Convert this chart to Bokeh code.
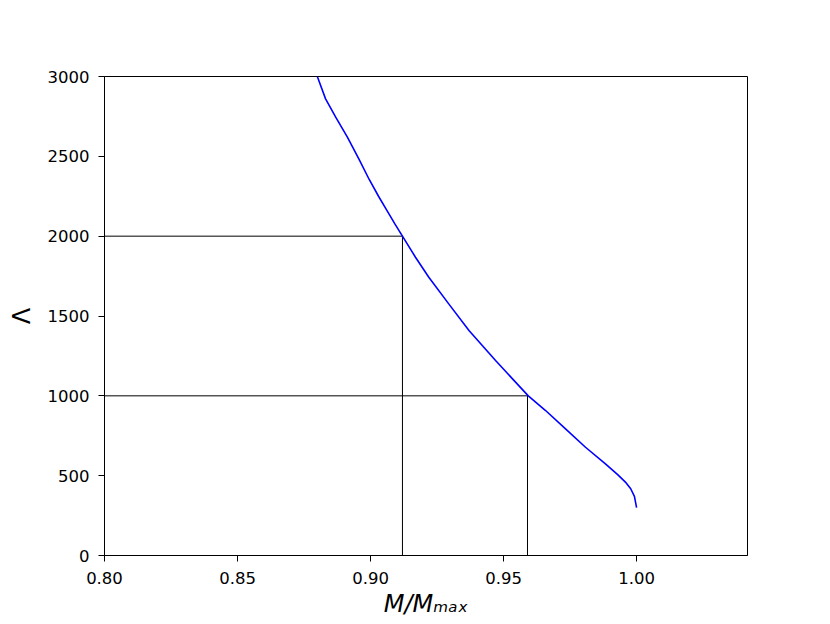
from bokeh.plotting import figure
from bokeh.models import Range1d, FixedTicker, CustomJSTickFormatter
from bokeh.embed import file_html
from bokeh.resources import INLINE

# curve data
mass_ratio = [0.8800, 0.8831, 0.8869, 0.8913, 0.8956, 0.8995, 0.9030, 0.9062,
              0.9092, 0.9120, 0.9169, 0.9219, 0.9294, 0.9370, 0.9470, 0.9593,
              0.9658, 0.9733, 0.9808, 0.9883, 0.9930, 0.9958, 0.9978, 0.9992,
              1.0000]
lam = [3000, 2860, 2745, 2620, 2484, 2355, 2250, 2160,
       2075, 2000, 1868, 1743, 1576, 1409, 1221, 1000,
       908, 793, 678, 574, 505, 460, 418, 370,
       300]

# reference lines
ref_lambda = [2000, 1000]
ref_mass = [0.912, 0.959]

x_ticks = [0.80, 0.85, 0.90, 0.95, 1.00]
y_ticks = [0, 500, 1000, 1500, 2000, 2500, 3000]

p = figure(width=814, height=620, output_backend="svg", toolbar_location=None,
           x_range=Range1d(0.80, 1.0417), y_range=Range1d(0, 3000),
           min_border_left=104, min_border_right=67, min_border_top=76, min_border_bottom=65)
p.xgrid.visible = False
p.ygrid.visible = False
p.outline_line_color = "black"
p.outline_line_alpha = 1.0
p.outline_line_width = 1
p.background_fill_color = "white"
p.border_fill_color = "white"

for ax in (p.xaxis[0], p.yaxis[0]):
    ax.axis_line_color = "black"
    ax.major_tick_line_color = "black"
    ax.minor_tick_line_color = None
    ax.major_tick_out = 6
    ax.major_tick_in = 0
    ax.major_label_text_font = "DejaVu Sans"
    ax.major_label_text_font_size = "16.5px"
    ax.major_label_text_color = "black"
    ax.axis_label_text_font = "DejaVu Sans"
    ax.axis_label_text_color = "black"
    ax.axis_label_text_font_size = "24px"

p.xaxis.major_label_standoff = 10
p.yaxis.major_label_standoff = 9

p.xaxis.ticker = FixedTicker(ticks=x_ticks)
p.xaxis.formatter = CustomJSTickFormatter(code="return tick.toFixed(2);")
p.yaxis.ticker = FixedTicker(ticks=y_ticks)
p.yaxis.formatter = CustomJSTickFormatter(code="return tick.toFixed(0);")

p.yaxis.axis_label = "Λ"
p.yaxis.axis_label_text_font_style = "normal"
p.yaxis.axis_label_standoff = 9

p.xaxis.axis_label = "M/Mₘₐₓ"
p.xaxis.axis_label_text_font_style = "italic"
p.xaxis.axis_label_standoff = 3

# reference lines
for lv, mv in zip(ref_lambda, ref_mass):
    p.line([0.80, mv], [lv, lv], line_color="black", line_width=1)
    p.line([mv, mv], [0, lv], line_color="black", line_width=1)

p.line(mass_ratio, lam, line_color="#0000ff", line_width=1.6)

open("out.html", "w").write(file_html(p, INLINE))
